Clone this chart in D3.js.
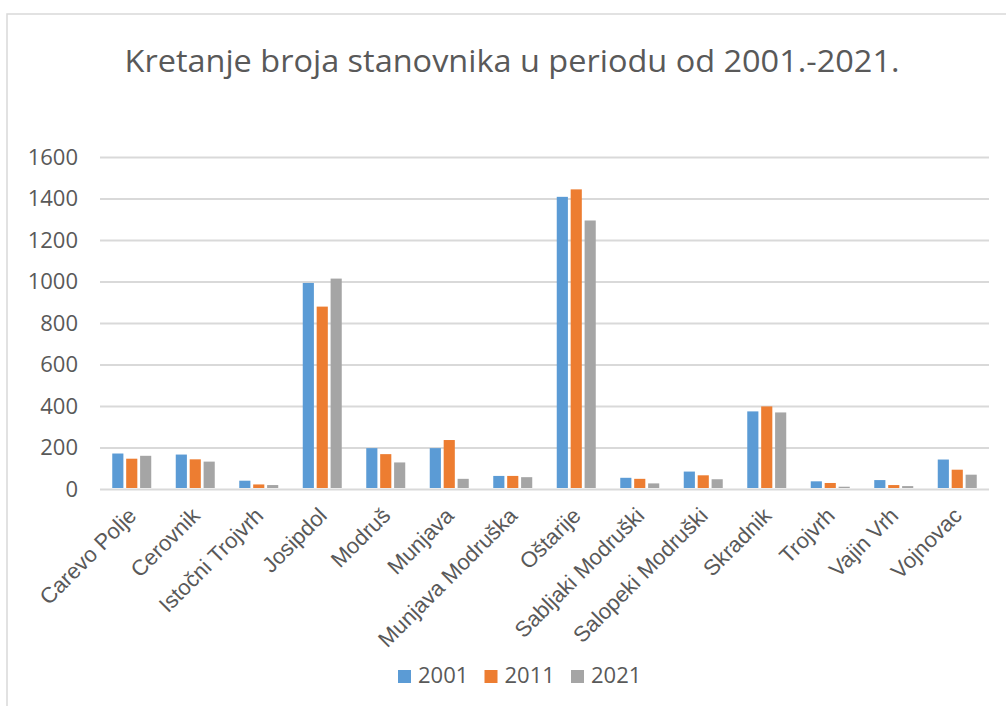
<!DOCTYPE html>
<html lang="hr">
<head>
<meta charset="UTF-8"/>
<title>Kretanje broja stanovnika</title>
<style>
  body { margin: 0; background: #fff; }
  svg { display: block; font-family: "Open Sans", sans-serif; }
  text { fill: #595959; }
  .grid line { stroke: #d9d9d9; stroke-width: 2; }
  .grid path { display: none; }
  .tick-label { font-size: 22px; }
  .cat text { font-size: 22px; }
  .cat path { display: none; }
  .title { font-size: 31px; }
  .legend text { font-size: 22px; }
</style>
</head>
<body>
<svg width="1006" height="706"></svg>
<script src="https://cdn.jsdelivr.net/npm/d3@7"></script>
<script>
const categories = ['Carevo Polje', 'Cerovnik', 'Istočni Trojvrh', 'Josipdol', 'Modruš', 'Munjava',
  'Munjava Modruška', 'Oštarije', 'Sabljaki Modruški', 'Salopeki Modruški', 'Skradnik', 'Trojvrh',
  'Vajin Vrh', 'Vojnovac'];
const seriesNames = ['2001', '2011', '2021'];
const values2001 = [171, 166, 40, 993, 197, 197, 63, 1408, 54, 84, 374, 37, 43, 142];
const values2011 = [146, 143, 22, 879, 168, 236, 63, 1444, 49, 66, 398, 29, 19, 93];
const values2021 = [160, 132, 19, 1014, 128, 49, 57, 1294, 27, 47, 369, 11, 14, 69];
const yTicks = [0, 200, 400, 600, 800, 1000, 1200, 1400, 1600];
const colors = ['#5b9bd5', '#ed7d31', '#a5a5a5'];

const allValues = [values2001, values2011, values2021];
const data = categories.map((c, i) => ({
  name: c,
  vals: seriesNames.map((s, j) => ({ key: s, value: allValues[j][i] }))
}));

const svg = d3.select('svg');

// chart frame
svg.append('rect')
  .attr('x', 7).attr('y', 14)
  .attr('width', 1010).attr('height', 700)
  .attr('fill', '#fff')
  .attr('stroke', '#d9d9d9')
  .attr('stroke-width', 1.5);

const plotLeft = 100, plotRight = 989, plotTop = 157, plotBottom = 489;

const x0 = d3.scaleBand()
  .domain(categories)
  .range([plotLeft, plotRight])
  .paddingInner(0.386)
  .paddingOuter(0.193);
const x1 = d3.scaleBand()
  .domain(seriesNames)
  .range([0, x0.bandwidth()])
  .paddingInner(0.2);
const y = d3.scaleLinear()
  .domain([0, 1600])
  .range([plotBottom, plotTop]);

// gridlines
svg.append('g')
  .attr('class', 'grid')
  .attr('transform', `translate(${plotLeft},0)`)
  .call(d3.axisLeft(y).tickValues(yTicks).tickSize(-(plotRight - plotLeft)).tickFormat(''));

// y labels
svg.append('g').selectAll('text')
  .data(yTicks)
  .enter().append('text')
  .attr('class', 'tick-label')
  .attr('x', 78)
  .attr('y', (d) => y(d))
  .attr('dy', '0.36em')
  .attr('text-anchor', 'end')
  .text((d) => d);

// bars
const groups = svg.append('g').selectAll('g')
  .data(data)
  .enter().append('g')
  .attr('transform', (d) => `translate(${x0(d.name)},0)`);
groups.selectAll('rect')
  .data((d) => d.vals)
  .enter().append('rect')
  .attr('x', (d) => x1(d.key))
  .attr('y', (d) => y(d.value))
  .attr('width', x1.bandwidth())
  .attr('height', (d) => plotBottom - y(d.value) - 1)
  .attr('fill', (d, i) => colors[i]);

// category labels
svg.append('g')
  .attr('class', 'cat')
  .attr('transform', `translate(0,${plotBottom})`)
  .call(d3.axisBottom(x0).tickSize(0))
  .selectAll('text')
  .attr('x', 0).attr('y', 0).attr('dy', 0)
  .attr('text-anchor', 'end')
  .attr('transform', 'translate(6,28) rotate(-45)')
  .style('fill', '#595959');

// title
svg.append('text')
  .attr('class', 'title')
  .attr('x', 512)
  .attr('y', 72)
  .attr('text-anchor', 'middle')
  .attr('textLength', 775)
  .attr('lengthAdjust', 'spacingAndGlyphs')
  .text('Kretanje broja stanovnika u periodu od 2001.-2021.');

// legend
const legend = svg.append('g').attr('class', 'legend')
  .selectAll('g')
  .data(seriesNames)
  .enter().append('g')
  .attr('transform', (d, i) => `translate(${398 + i * 86.5},670)`);
legend.append('rect')
  .attr('width', 13).attr('height', 13)
  .attr('fill', (d, i) => colors[i]);
legend.append('text')
  .attr('x', 20)
  .attr('y', 13)
  .text((d) => d);
</script>
</body>
</html>
